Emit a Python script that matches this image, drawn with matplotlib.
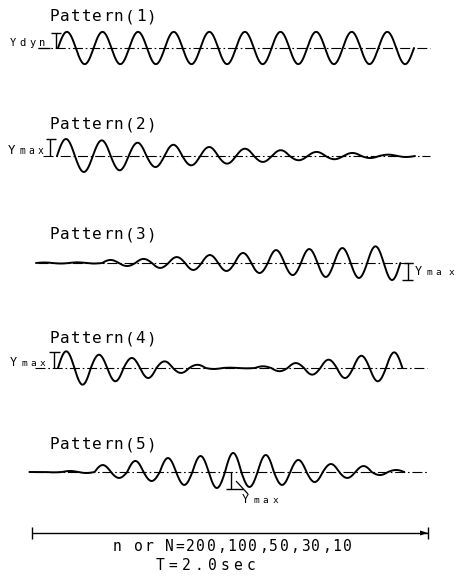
import numpy as np
import matplotlib
matplotlib.use("Agg")
import matplotlib.pyplot as plt

# ---------------- data: half-wave amplitudes (relative to Ymax = 1) ----------------
pattern_titles = ["Pattern(1)", "Pattern(2)", "Pattern(3)", "Pattern(4)", "Pattern(5)"]

amp_p1 = [0.95, 0.95, 0.95, 0.95, 0.95, 0.95, 0.95, 0.95, 0.95, 0.95,
          0.95, 0.95, 0.95, 0.95, 0.95, 0.95, 0.95, 0.95, 0.95, 0.95]
amp_p2 = [1.00, 0.94, 0.92, 0.84, 0.78, 0.65, 0.66, 0.55, 0.53, 0.45,
          0.43, 0.35, 0.34, 0.25, 0.24, 0.19, 0.18, 0.12, 0.08, 0.06]
amp_p3 = [0.03, 0.03, 0.04, 0.03, 0.18, 0.18, 0.24, 0.29, 0.35, 0.41, 0.47,
          0.47, 0.59, 0.59, 0.76, 0.71, 0.82, 0.82, 0.88, 0.88, 0.98, 1.00]
amp_p4 = [0.98, 0.98, 0.78, 0.78, 0.59, 0.59, 0.39, 0.29, 0.19, 0.06, 0.02,
          0.02, 0.10, 0.19, 0.29, 0.39, 0.49, 0.59, 0.72, 0.78, 0.92]
amp_p5 = [0.00, 0.02, 0.06, 0.06, 0.41, 0.35, 0.65, 0.53, 0.82, 0.76, 0.94, 0.94,
          1.12, 0.88, 1.00, 0.76, 0.71, 0.59, 0.47, 0.35, 0.35, 0.18, 0.12]

footer_line1 = "n or N=200,100,50,30,10"
footer_line2 = "T=2.0sec"

# ---------------- figure ----------------
fig = plt.figure(figsize=(4.57, 5.80), dpi=100)
ax = fig.add_axes([0, 0, 1, 1])
ax.set_xlim(0, 457)
ax.set_ylim(580, 0)
ax.axis("off")

SCALE = 17.0
MONO = "DejaVu Sans Mono"
WAVE_LW = 1.4
BASE_STYLE = dict(color="k", lw=0.8, linestyle=(0, (9, 2.5, 1.5, 2.5)))


def wave(amps, x0, half, yb):
    xs, ys = [], []
    t = np.linspace(0, 1, 30)
    for i, a in enumerate(amps):
        sign = 1 if i % 2 == 0 else -1
        xs.append(x0 + (i + t) * half)
        ys.append(yb - sign * a * SCALE * np.sin(np.pi * t))
    ax.plot(np.concatenate(xs), np.concatenate(ys), color="k", lw=WAVE_LW,
            solid_capstyle="round", solid_joinstyle="round")


def spaced(x_first, y, s, pitch, size):
    for i, c in enumerate(s):
        ax.text(x_first + i * pitch, y, c, fontsize=size, family=MONO,
                ha="center", va="baseline", color="k")


def ymax_label(xs, y, big=8.5, small=6.8):
    spaced(xs[0], y, "Y", 0, big)
    for c, x in zip("max", xs[1:]):
        spaced(x, y, c, 0, small)


def line(x, y, lw=1.0):
    ax.plot(x, y, color="k", lw=lw, solid_capstyle="butt")


# titles
title_pos = [21, 129, 239, 343, 449]
for t, yb in zip(pattern_titles, title_pos):
    spaced(54, yb, t, 10.8, 11.5)

# Pattern 1
yb1 = 48
ax.plot([38, 430], [yb1, yb1], **BASE_STYLE)
line([38, 50], [yb1, yb1], lw=0.9)
wave(amp_p1, 58, 17.8, yb1)
line([51, 61], [33, 33])
line([56, 56], [33, yb1])
spaced(13, 46, "Ydyn", 9.6, 7.5)

# Pattern 2
yb2 = 156
ax.plot([43, 430], [yb2, yb2], **BASE_STYLE)
wave(amp_p2, 57, 17.9, yb2)
line([46, 56], [139, 139])
line([50, 50], [139, yb2])
ymax_label([12, 22, 31.5, 41], 154, big=9, small=7)

# Pattern 3
yb3 = 263
ax.plot([38, 413], [yb3, yb3], **BASE_STYLE)
wave(amp_p3, 36, 16.56, yb3)
line([408, 408], [yb3, 280])
line([402, 413], [280, 280])
line([404, 413], [yb3, yb3])
ymax_label([418.5, 429, 438.5, 452], 275)

# Pattern 4
yb4 = 368
ax.plot([35, 427], [yb4, yb4], **BASE_STYLE)
wave(amp_p4, 58, 16.4, yb4)
line([49, 60], [352, 352])
line([54, 54], [352, yb4])
ymax_label([13.5, 24, 33.5, 42.5], 366)

# Pattern 5
yb5 = 472
ax.plot([33, 428], [yb5, yb5], **BASE_STYLE)
wave(amp_p5, 29.4, 16.3, yb5)
line([231, 231], [yb5, 489])
line([226, 243], [489, 489])
line([236, 248], [481, 494], lw=0.9)
ymax_label([245, 256, 265.5, 276], 503)

# time span
line([32, 428], [533, 533], lw=1.0)
line([32, 32], [527, 539], lw=1.0)
line([428, 428], [527, 539], lw=1.0)
ax.fill([420, 428, 420], [530.5, 533, 535.5], color="k", lw=0)

spaced(117, 551, footer_line1, 10.45, 10.5)
spaced(160, 570, footer_line2, 13.0, 10.5)

fig.savefig("out.png", dpi=100, facecolor="white")
